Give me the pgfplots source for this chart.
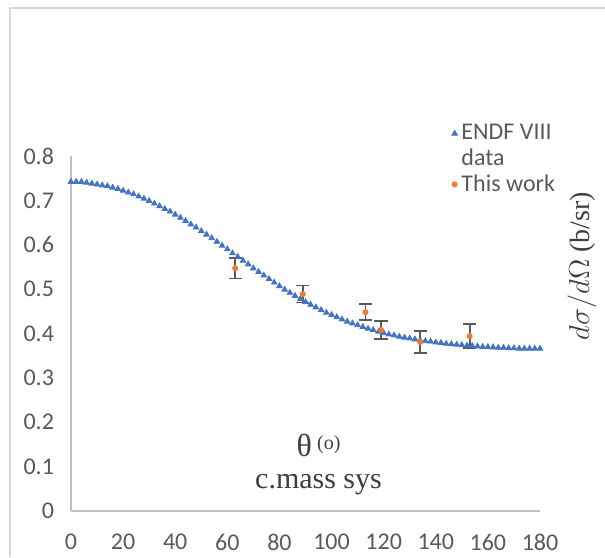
\documentclass[border=0pt]{standalone}
\usepackage{pgfplots}
\pgfplotsset{compat=1.18}
\usepackage{fontspec}
\setmainfont{Carlito}
\newfontfamily\timesf{Liberation Serif}

\definecolor{xlblue}{HTML}{4472C4}
\definecolor{xlorange}{HTML}{ED7D31}
\definecolor{xlgrey}{HTML}{595959}
\definecolor{xlaxis}{HTML}{BFBFBF}
\definecolor{xlframe}{HTML}{D9D9D9}

\pgfplotstableread{
x y
0 0.742
2 0.742
4 0.742
6 0.740
8 0.738
10 0.736
12 0.734
14 0.732
16 0.729
18 0.726
20 0.722
22 0.718
24 0.714
26 0.709
28 0.704
30 0.699
32 0.693
34 0.687
36 0.681
38 0.675
40 0.668
42 0.661
44 0.654
46 0.646
48 0.639
50 0.631
52 0.623
54 0.615
56 0.607
58 0.598
60 0.590
62 0.581
64 0.573
66 0.564
68 0.556
70 0.547
72 0.539
74 0.531
76 0.523
78 0.515
80 0.507
82 0.499
84 0.492
86 0.485
88 0.478
90 0.471
92 0.465
94 0.459
96 0.453
98 0.447
100 0.442
102 0.437
104 0.432
106 0.427
108 0.423
110 0.419
112 0.415
114 0.411
116 0.408
118 0.404
120 0.401
122 0.398
124 0.396
126 0.393
128 0.391
130 0.389
132 0.387
134 0.385
136 0.383
138 0.382
140 0.380
142 0.379
144 0.377
146 0.376
148 0.375
150 0.374
152 0.373
154 0.372
156 0.371
158 0.370
160 0.370
162 0.369
164 0.368
166 0.368
168 0.367
170 0.367
172 0.366
174 0.366
176 0.366
178 0.366
180 0.366
}\endf

\pgfplotstableread{
x y err
63 0.547 0.023
89 0.489 0.019
113 0.448 0.018
119 0.408 0.021
134 0.381 0.025
153 0.394 0.027
}\thiswork

\begin{document}
\begin{tikzpicture}
\useasboundingbox (-35.5pt,-23pt) rectangle (267pt,255.5pt);
\draw[xlframe, line width=0.8pt] (-30.5pt,-23pt) -- (-30.5pt,251.5pt) -- (267pt,251.5pt);
\begin{axis}[
    scale only axis,
    width=234.5pt, height=177.5pt,
    xmin=0, xmax=180,
    ymin=0, ymax=0.8,
    xtick={0,20,...,180},
    ytick={0,0.1,...,0.8},
    axis x line=bottom, axis y line=left,
    axis line style={-, xlaxis, line width=0.8pt},
    major tick length=0pt,
    /pgf/number format/assume math mode=true,
    tick label style={font=\fontsize{12}{14}\selectfont, text=xlgrey},
    xticklabel style={yshift=-8pt},
    yticklabel style={xshift=-5pt, /pgf/number format/fixed},
    clip=false,
    legend style={draw=none, fill=none, at={(axis cs:140,0.89)}, anchor=north west,
        font=\fontsize{12}{14}\selectfont, text=xlgrey, row sep=-1pt,
        cells={anchor=west, xshift=2pt}},
    legend image code/.code={\draw[#1] plot coordinates {(0.15cm,0cm)};},
]
\addplot[only marks, mark=triangle*, mark size=1.6pt, color=xlblue]
    table[x=x, y=y] {\endf};
\addlegendentry{ENDF VIII}
\addlegendimage{empty legend}
\addlegendentry{data}
\addplot[only marks, mark=*, mark size=1.3pt, color=xlorange,
    error bars/.cd, y dir=both, y explicit,
    error bar style={xlgrey, line width=0.9pt},
    error mark options={xlgrey, line width=0.9pt, mark size=3.3pt, rotate=90}]
    table[x=x, y=y, y error=err] {\thiswork};
\addlegendentry{This work}
\node[font=\timesf\fontsize{16}{18}\selectfont, text=xlgrey!70!black] at (axis cs:95,0.147) {θ\,\raisebox{0.5ex}{\fontsize{10}{12}\selectfont(o)}};
\node[font=\timesf\fontsize{15}{18}\selectfont, text=xlgrey!70!black] at (axis cs:95,0.06) {c.mass sys};
\node[rotate=90, font=\timesf\fontsize{14}{16}\selectfont, text=xlgrey!70!black] at ([xshift=21pt]axis cs:180,0.552) {$d\sigma/d\Omega$ (b/sr)};
\end{axis}
\end{tikzpicture}
\end{document}
